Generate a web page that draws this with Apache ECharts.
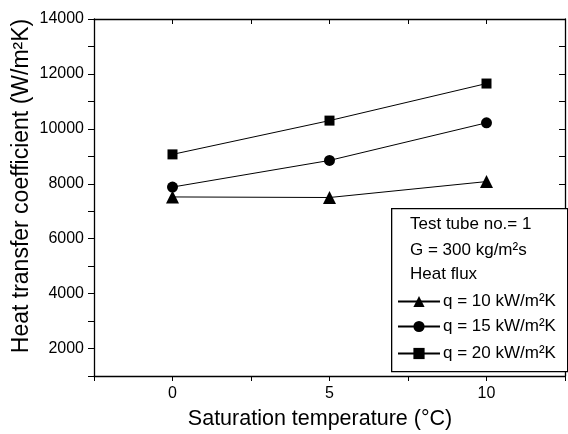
<!DOCTYPE html>
<html>
<head>
<meta charset="utf-8">
<script src="https://cdn.jsdelivr.net/npm/echarts@6/dist/echarts.min.js"></script>
<style>
  html, body { margin: 0; padding: 0; background: #fff; }
  #chart { width: 568px; height: 434px; }
</style>
</head>
<body>
<div id="chart"></div>
<script>
// Saturation temperature (°C)
const temps = [0, 5, 10];
// Heat transfer coefficient (W/m²K) for each heat flux
const q10 = [7520, 7500, 8080];
const q15 = [7880, 8850, 10220];
const q20 = [9070, 10300, 11650];
const seriesNames = ['q = 10 kW/m\u00B2K', 'q = 15 kW/m\u00B2K', 'q = 20 kW/m\u00B2K'];
const headerLines = ['Test tube no.= 1', 'G = 300 kg/m\u00B2s', 'Heat flux'];
const xTitle = 'Saturation temperature (\u00B0C)';
const yTitle = 'Heat transfer coefficient (W/m\u00B2K)';
const xTickLabels = [0, 5, 10];
const yTickLabels = [2000, 4000, 6000, 8000, 10000, 12000, 14000];

const FONT = '"Liberation Sans", Arial, Helvetica, sans-serif';
const chart = echarts.init(document.getElementById('chart'), null, { renderer: 'canvas' });

const pairs = (ys) => temps.map((t, i) => [t, ys[i]]);

const baseSeries = (name, data, symbol, size) => ({
  name, type: 'line', data: pairs(data),
  symbol, symbolSize: size,
  lineStyle: { color: '#000', width: 1 },
  itemStyle: { color: '#000' },
  emphasis: { disabled: true },
  animation: false
});

const axisLine = { show: true, onZero: false, lineStyle: { color: '#000', width: 1.3 } };

const legendItem = (name, top) => ({
  data: [name], orient: 'vertical', left: 397, top,
  itemWidth: 42, itemHeight: 14, itemGap: 0, padding: 0,
  textStyle: { fontFamily: FONT, fontSize: 17, color: '#000', padding: [0, 0, 0, -2] },
  selectedMode: false
});

chart.setOption({
  backgroundColor: '#fff',
  animation: false,
  grid: { left: 94, top: 19, width: 476, height: 357 },
  xAxis: [{
    type: 'value', position: 'bottom', min: -2.5, max: 12.5, interval: 2.5,
    axisLine, splitLine: { show: false },
    axisTick: { show: true, inside: false, length: 5, lineStyle: { color: '#000' } },
    axisLabel: {
      fontFamily: FONT, fontSize: 16, color: '#000', margin: 10,
      formatter: v => xTickLabels.includes(v) ? String(v) : ''
    }
  }, {
    type: 'value', position: 'top', min: -2.5, max: 12.5, interval: 2.5,
    axisLine, splitLine: { show: false },
    axisTick: { show: true, inside: true, length: 5, lineStyle: { color: '#000' } },
    axisLabel: { show: false }
  }],
  yAxis: [{
    type: 'value', position: 'left', min: 1000, max: 14000, interval: 1000,
    axisLine, splitLine: { show: false },
    axisTick: { show: true, inside: false, length: 6, lineStyle: { color: '#000' } },
    axisLabel: {
      fontFamily: FONT, fontSize: 16, color: '#000', margin: 10,
      formatter: v => yTickLabels.includes(v) ? String(v) : ''
    }
  }, {
    type: 'value', position: 'right', min: 1000, max: 14000, interval: 1000,
    axisLine, splitLine: { show: false },
    axisTick: { show: true, inside: true, length: 6, lineStyle: { color: '#000' } },
    axisLabel: { show: false }
  }],
  legend: [
    legendItem(seriesNames[0], 293),
    legendItem(seriesNames[1], 318),
    legendItem(seriesNames[2], 345)
  ],
  graphic: [
    // axis titles
    {
      type: 'text', x: 320, y: 419,
      style: { text: xTitle, font: '21.5px ' + FONT, fill: '#000', align: 'center', verticalAlign: 'middle' }
    },
    {
      type: 'text', x: 22, y: 186, rotation: Math.PI / 2,
      style: { text: yTitle, font: '23px ' + FONT, fill: '#000', align: 'center', verticalAlign: 'middle' }
    },
    // legend frame and header lines
    {
      type: 'rect', z: 3, left: 391, top: 208,
      shape: { width: 176, height: 163 },
      style: { fill: '#fff', stroke: '#000', lineWidth: 1.3 }
    },
    ...headerLines.map((t, i) => ({
      type: 'text', z: 4, left: 410, top: [216, 242, 266][i],
      style: { text: t, font: '17px ' + FONT, fill: '#000' }
    }))
  ],
  series: [
    baseSeries(seriesNames[0], q10, 'triangle', 13),
    baseSeries(seriesNames[1], q15, 'circle', 11),
    baseSeries(seriesNames[2], q20, 'rect', 10)
  ]
});
</script>
</body>
</html>
